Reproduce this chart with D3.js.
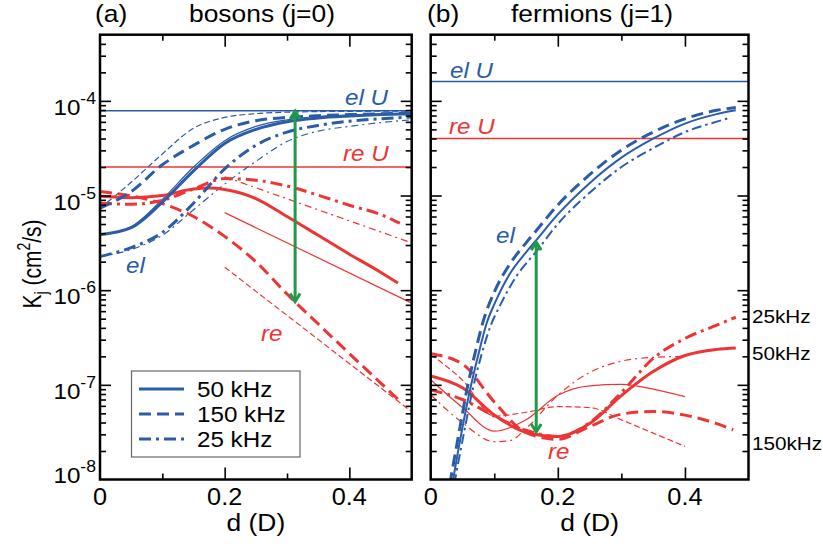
<!DOCTYPE html>
<html><head><meta charset="utf-8">
<script src="https://cdn.jsdelivr.net/npm/d3@7"></script>
<style>body{margin:0;background:#fff}svg{display:block}</style>
</head><body>
<svg id="c" width="823" height="544"></svg>
<script>
// ---------------- data ----------------
const panelTitles = ["(a)", "(b)"];
const panelNames = ["bosons (j=0)", "fermions (j=1)"];
const xTickLabels = [0, 0.2, 0.4];
const xMinor = [0.1, 0.3];
const yDecades = [-8, -7, -6, -5, -4];
const legendLabels = ["50 kHz", "150 kHz", "25 kHz"];
const freqLabels = ["25kHz", "50kHz", "150kHz"];
const freqLabelK = [5.2e-7, 2.1e-7, 2.4e-8];

const elU = [7.85e-5, 1.6e-4];
const reU = [2.0e-5, 4.0e-5];
const arrowD = [0.313, 0.166];
const arrowTop = [8.0e-5, 3.3e-6];
const arrowBottom = [7.4e-7, 3.1e-8];

// panel (a) bosons
const dA = [0, 0.05, 0.1, 0.15, 0.2, 0.25, 0.3, 0.35, 0.4, 0.45, 0.5];
const bosEl50 = [3.85e-6, 4.57e-6, 8.5e-6, 1.82e-5, 3.55e-5, 5.0e-5, 6.03e-5, 6.6e-5, 6.92e-5, 7.16e-5, 7.33e-5];
const bosEl50b = [3.85e-6, 4.68e-6, 9.1e-6, 2.0e-5, 3.8e-5, 5.37e-5, 6.31e-5, 6.84e-5, 7.08e-5, 7.24e-5, 7.41e-5];
const bosEl150 = [7.36e-6, 1.10e-5, 2.11e-5, 3.39e-5, 5.01e-5, 6.17e-5, 6.68e-5, 6.97e-5, 7.16e-5, 7.29e-5, 7.41e-5];
const bosEl150b = [7.36e-6, 1.38e-5, 2.75e-5, 5.13e-5, 6.68e-5, 7.33e-5, 7.6e-5, 7.7e-5, 7.75e-5, 7.77e-5, 7.78e-5];
const bosEl25 = [2.27e-6, 2.82e-6, 4.07e-6, 8.3e-6, 1.91e-5, 3.39e-5, 4.68e-5, 5.5e-5, 6.1e-5, 6.46e-5, 6.76e-5];
const bosEl25b = [2.27e-6, 2.69e-6, 3.8e-6, 7.08e-6, 1.32e-5, 2.29e-5, 3.72e-5, 4.79e-5, 5.37e-5, 5.89e-5, 6.31e-5];

const dRe50A = [0, 0.05, 0.1, 0.15, 0.175, 0.2, 0.25, 0.3, 0.35, 0.4, 0.45, 0.478];
const bosRe50 = [9.8e-6, 9.5e-6, 1.0e-5, 1.17e-5, 1.2e-5, 1.16e-5, 9.3e-6, 6.0e-6, 3.8e-6, 2.4e-6, 1.55e-6, 1.19e-6];
const dRe150A = [0, 0.05, 0.1, 0.15, 0.2, 0.25, 0.3, 0.35, 0.4, 0.45, 0.4785];
const bosRe150 = [1.1e-5, 9.9e-6, 8.2e-6, 6.0e-6, 3.7e-6, 2.0e-6, 9.1e-7, 4.4e-7, 2.14e-7, 1.05e-7, 7.0e-8];
const dRe25A = [0, 0.05, 0.1, 0.15, 0.2, 0.25, 0.3, 0.35, 0.4, 0.45, 0.481];
const bosRe25 = [8.3e-6, 8.1e-6, 8.9e-6, 1.17e-5, 1.51e-5, 1.45e-5, 1.26e-5, 1.01e-5, 7.9e-6, 6.3e-6, 5.1e-6];
const dAsym = [0.2, 0.5];
const bosRe50b = [6.6e-6, 7.3e-7];
const bosRe150b = [1.75e-6, 5.2e-8];
const bosRe25b = [1.58e-5, 3.16e-6];

// panel (b) fermions
const dEl50B = [0.034, 0.05, 0.062, 0.075, 0.088, 0.1, 0.125, 0.15, 0.165, 0.2, 0.25, 0.3, 0.35, 0.4, 0.45, 0.48];
const ferEl50 = [8.9e-9, 3.55e-8, 8.91e-8, 2.09e-7, 4.47e-7, 7.08e-7, 1.51e-6, 2.51e-6, 3.31e-6, 6.31e-6, 1.35e-5, 2.51e-5, 3.98e-5, 5.75e-5, 7.24e-5, 7.94e-5];
const dEl150B = [0.030, 0.046, 0.057, 0.07, 0.083, 0.1, 0.125, 0.15, 0.165, 0.2, 0.25, 0.3, 0.35, 0.4, 0.45, 0.48];
const ferEl150 = [8.9e-9, 3.55e-8, 8.91e-8, 2.19e-7, 4.79e-7, 9.55e-7, 1.91e-6, 3.16e-6, 4.17e-6, 7.94e-6, 1.66e-5, 3.02e-5, 4.68e-5, 6.46e-5, 7.94e-5, 8.51e-5];
const dEl25B = [0.037, 0.054, 0.066, 0.08, 0.094, 0.11, 0.135, 0.15, 0.165, 0.2, 0.25, 0.3, 0.35, 0.4, 0.45, 0.47];
const ferEl25 = [8.9e-9, 3.55e-8, 8.91e-8, 2.09e-7, 4.17e-7, 7.08e-7, 1.41e-6, 1.91e-6, 2.51e-6, 5.01e-6, 1.07e-5, 2.0e-5, 3.16e-5, 4.68e-5, 6.03e-5, 6.61e-5];

const dReB = [0, 0.05, 0.1, 0.15, 0.2, 0.25, 0.3, 0.35, 0.4, 0.45, 0.48];
const ferRe50 = [1.24e-7, 9.3e-8, 4.8e-8, 3.16e-8, 2.85e-8, 3.9e-8, 7.7e-8, 1.38e-7, 2.04e-7, 2.37e-7, 2.45e-7];
const dRe150B = [0, 0.05, 0.1, 0.15, 0.2, 0.25, 0.3, 0.35, 0.4, 0.45, 0.476];
const ferRe150 = [2.13e-7, 1.66e-7, 6.6e-8, 3.13e-8, 2.66e-8, 3.63e-8, 4.9e-8, 5.24e-8, 4.79e-8, 3.89e-8, 3.35e-8];
const ferRe25 = [8.85e-8, 7.0e-8, 4.68e-8, 3.31e-8, 2.85e-8, 3.98e-8, 8.3e-8, 1.9e-7, 3.09e-7, 4.27e-7, 5.19e-7];
const dReThinB = [0, 0.05, 0.1, 0.15, 0.2, 0.25, 0.3, 0.35, 0.4];
const ferRe50b = [1.13e-7, 5.75e-8, 3.24e-8, 4.27e-8, 7.76e-8, 9.77e-8, 1.01e-7, 9.0e-8, 7.5e-8];
const ferRe150b = [2.09e-7, 1.12e-7, 4.68e-8, 5.13e-8, 5.89e-8, 5.75e-8, 4.27e-8, 3.09e-8, 2.24e-8];
const dRe25ThinB = [0, 0.05, 0.1, 0.125, 0.15, 0.2, 0.25, 0.3, 0.35, 0.4];
const ferRe25b = [7.85e-8, 3.98e-8, 2.51e-8, 2.57e-8, 3.47e-8, 7.76e-8, 1.35e-7, 1.78e-7, 1.95e-7, 2.0e-7];

// ---------------- styling ----------------
const BLUE = "#2b5ca8", RED = "#ee3535", GREEN = "#1f9a48";
const FONT = "'Liberation Sans', Arial, Helvetica, sans-serif";
const SX = 1.1;
const ST = {
  solid:   {w: 3,   dash: null},
  solidT:  {w: 1.2, dash: null},
  solidM:  {w: 2,   dash: null},
  dash:    {w: 3,   dash: "12,6"},
  dashT:   {w: 1.2, dash: "6,3"},
  dot:     {w: 3,   dash: "12,5,3,5"},
  dotT:    {w: 1.2, dash: "7,4,2,4"},
  dotM:    {w: 2,   dash: "10,4,2.5,4"}
};

const svg = d3.select("#c");
const panels = [
  {x0: 100, x1: 411.7},
  {x0: 430.7, x1: 748.5}
];
const Y0 = 34.7, Y1 = 479.5;

function zip(ds, ks) { return ds.map((d, i) => [d, ks[i]]); }

const seriesA = [
  {p: zip(dA, bosEl50b), c: BLUE, s: "solidT"},
  {p: zip(dA, bosEl150b), c: BLUE, s: "dashT"},
  {p: zip(dA, bosEl25b), c: BLUE, s: "dotT"},
  {p: zip(dAsym, bosRe50b), c: RED, s: "solidT"},
  {p: zip(dAsym, bosRe150b), c: RED, s: "dashT"},
  {p: zip(dAsym, bosRe25b), c: RED, s: "dotT"},
  {p: zip(dRe50A, bosRe50), c: RED, s: "solid"},
  {p: zip(dRe150A, bosRe150), c: RED, s: "dash"},
  {p: zip(dRe25A, bosRe25), c: RED, s: "dot"},
  {p: zip(dA, bosEl50), c: BLUE, s: "solid"},
  {p: zip(dA, bosEl150), c: BLUE, s: "dash"},
  {p: zip(dA, bosEl25), c: BLUE, s: "dot"}
];
const seriesB = [
  {p: zip(dReThinB, ferRe50b), c: RED, s: "solidT"},
  {p: zip(dReThinB, ferRe150b), c: RED, s: "dashT"},
  {p: zip(dRe25ThinB, ferRe25b), c: RED, s: "dotT"},
  {p: zip(dReB, ferRe50), c: RED, s: "solid"},
  {p: zip(dRe150B, ferRe150), c: RED, s: "dash"},
  {p: zip(dReB, ferRe25), c: RED, s: "dot"},
  {p: zip(dEl50B, ferEl50), c: BLUE, s: "solidM"},
  {p: zip(dEl150B, ferEl150), c: BLUE, s: "dash"},
  {p: zip(dEl25B, ferEl25), c: BLUE, s: "dotM"}
];

function txt(g, x, y, size, anchor, opts = {}) {
  const t = g.append("text")
    .attr("transform", `translate(${x},${y}) scale(${opts.sx || SX},1)`)
    .attr("font-family", FONT).attr("font-size", size)
    .attr("text-anchor", anchor).attr("fill", opts.fill || "#000");
  if (opts.italic) t.attr("font-style", "italic");
  return t;
}

const yMinorVals = [];
yDecades.forEach(e => { for (let k = 2; k <= 9; k++) { const v = k * Math.pow(10, e); if (v < 5e-4) yMinorVals.push(v); } });

panels.forEach((P, pi) => {
  const x = d3.scaleLinear().domain([0, 0.5]).range([P.x0, P.x1]);
  const y = d3.scaleLog().domain([1e-8, 5e-4]).range([Y1, Y0]);
  const g = svg.append("g");
  const clipId = "clip" + pi;
  svg.append("clipPath").attr("id", clipId).append("rect")
    .attr("x", P.x0).attr("y", Y0).attr("width", P.x1 - P.x0).attr("height", Y1 - Y0);

  // horizontal U lines
  const hl = g.append("g").attr("clip-path", `url(#${clipId})`);
  hl.append("line").attr("x1", x(0)).attr("x2", x(0.5)).attr("y1", y(elU[pi])).attr("y2", y(elU[pi]))
    .attr("stroke", BLUE).attr("stroke-width", 1.6);
  hl.append("line").attr("x1", x(0)).attr("x2", x(0.5)).attr("y1", y(reU[pi])).attr("y2", y(reU[pi]))
    .attr("stroke", RED).attr("stroke-width", 1.6);

  // curves
  const line = d3.line().x(d => x(d[0])).y(d => y(d[1])).curve(d3.curveMonotoneX);
  const cg = g.append("g").attr("clip-path", `url(#${clipId})`);
  (pi === 0 ? seriesA : seriesB).forEach(s => {
    cg.append("path").attr("d", line(s.p)).attr("fill", "none")
      .attr("stroke", s.c).attr("stroke-width", ST[s.s].w)
      .attr("stroke-dasharray", ST[s.s].dash);
  });

  // green arrow
  const ax = x(arrowD[pi]), at = y(arrowTop[pi]), ab = y(arrowBottom[pi]);
  const ag = g.append("g").attr("stroke", GREEN).attr("stroke-width", 3).attr("fill", "none");
  ag.append("line").attr("x1", ax).attr("x2", ax).attr("y1", at + 1).attr("y2", ab - 1);
  ag.append("path").attr("d", `M${ax - 5},${at + 9}L${ax},${at + 1}L${ax + 5},${at + 9}`);
  ag.append("path").attr("d", `M${ax - 5},${ab - 9}L${ax},${ab - 1}L${ax + 5},${ab - 9}`);

  // axes (ticks inward)
  const ax1 = g.append("g").attr("transform", `translate(0,${Y1})`)
    .call(d3.axisBottom(x).tickValues(xTickLabels.slice(1)).tickSize(-12).tickFormat(""));
  const ax2 = g.append("g").attr("transform", `translate(0,${Y1})`)
    .call(d3.axisBottom(x).tickValues(xMinor).tickSize(-6).tickFormat(""));
  const ax3 = g.append("g").attr("transform", `translate(0,${Y0})`)
    .call(d3.axisTop(x).tickValues(xTickLabels.slice(1)).tickSize(-12).tickFormat(""));
  const ax4 = g.append("g").attr("transform", `translate(0,${Y0})`)
    .call(d3.axisTop(x).tickValues(xMinor).tickSize(-6).tickFormat(""));
  const majorY = yDecades.slice(1).map(e => Math.pow(10, e));
  const ay1 = g.append("g").attr("transform", `translate(${P.x0},0)`)
    .call(d3.axisLeft(y).tickValues(majorY).tickSize(-11).tickFormat(""));
  const ay2 = g.append("g").attr("transform", `translate(${P.x0},0)`)
    .call(d3.axisLeft(y).tickValues(yMinorVals).tickSize(-6).tickFormat(""));
  const ay3 = g.append("g").attr("transform", `translate(${P.x1},0)`)
    .call(d3.axisRight(y).tickValues(majorY).tickSize(-11).tickFormat(""));
  const ay4 = g.append("g").attr("transform", `translate(${P.x1},0)`)
    .call(d3.axisRight(y).tickValues(yMinorVals).tickSize(-6).tickFormat(""));
  [ax1, ax2, ax3, ax4, ay1, ay2, ay3, ay4].forEach(a => {
    a.select(".domain").remove();
    a.selectAll("line").attr("stroke", "#000").attr("stroke-width", 1.6);
  });

  // frame
  g.append("rect").attr("x", P.x0).attr("y", Y0).attr("width", P.x1 - P.x0).attr("height", Y1 - Y0)
    .attr("fill", "none").attr("stroke", "#000").attr("stroke-width", 2.5);

  // x tick labels
  xTickLabels.forEach(v => {
    txt(g, x(v), 505, 23, "middle").text(v === 0 ? "0" : v.toFixed(1));
  });
  txt(g, (P.x0 + P.x1) / 2, 531, 24, "middle").text("d (D)");

  // titles
  txt(g, pi === 0 ? 95 : 427, 22, 24, "start").text(panelTitles[pi]);
  txt(g, pi === 0 ? 189 : 511, 22, 24, "start").text(panelNames[pi]);
});

// y tick labels (left panel)
const yL = d3.scaleLog().domain([1e-8, 5e-4]).range([Y1, Y0]);
yDecades.forEach(e => {
  const yy = yL(Math.pow(10, e)) + (e === -8 ? 3 : 14);
  const t = txt(svg, 96, yy, 22, "end");
  t.append("tspan").text("10");
  t.append("tspan").attr("dy", -11).attr("font-size", 16).text("-" + Math.abs(e));
});

// y axis title
const yt = svg.append("text")
  .attr("transform", `translate(41,264) scale(1.25,1) rotate(-90)`)
  .attr("font-family", FONT).attr("font-size", 21).attr("text-anchor", "middle");
yt.append("tspan").text("K");
yt.append("tspan").attr("dy", 5).attr("font-size", 14).text("j");
yt.append("tspan").attr("dy", -5).text(" (cm");
yt.append("tspan").attr("dy", -9).attr("font-size", 14).text("2");
yt.append("tspan").attr("dy", 9).text("/s)");

// curve labels
txt(svg, 345, 105, 22, "start", {fill: BLUE, italic: true}).text("el U");
txt(svg, 343, 161, 22, "start", {fill: RED, italic: true}).text("re U");
txt(svg, 126, 273, 22, "start", {fill: BLUE, italic: true}).text("el");
txt(svg, 261, 341, 22, "start", {fill: RED, italic: true}).text("re");
txt(svg, 450, 78, 22, "start", {fill: BLUE, italic: true}).text("el U");
txt(svg, 449, 134, 22, "start", {fill: RED, italic: true}).text("re U");
txt(svg, 496, 243, 22, "start", {fill: BLUE, italic: true}).text("el");
txt(svg, 548, 459, 22, "start", {fill: RED, italic: true}).text("re");

// frequency labels at right
const yR = d3.scaleLog().domain([1e-8, 5e-4]).range([Y1, Y0]);
freqLabels.forEach((f, i) => {
  txt(svg, 752, yR(freqLabelK[i]) + 6, 18, "start", {sx: 1.15}).text(f);
});

// legend
const lg = svg.append("g");
lg.append("rect").attr("x", 131.5).attr("y", 371).attr("width", 168.5).attr("height", 86)
  .attr("fill", "#fff").attr("stroke", "#666").attr("stroke-width", 1.2);
const legStyles = ["solid", "dash", "dot"];
legendLabels.forEach((l, i) => {
  const yy = 389 + i * 25;
  lg.append("line").attr("x1", 139).attr("x2", 184).attr("y1", yy).attr("y2", yy)
    .attr("stroke", BLUE).attr("stroke-width", 3).attr("stroke-dasharray", ST[legStyles[i]].dash);
  txt(lg, 197, yy + 8, 22, "start").text(l);
});
</script>
</body></html>
